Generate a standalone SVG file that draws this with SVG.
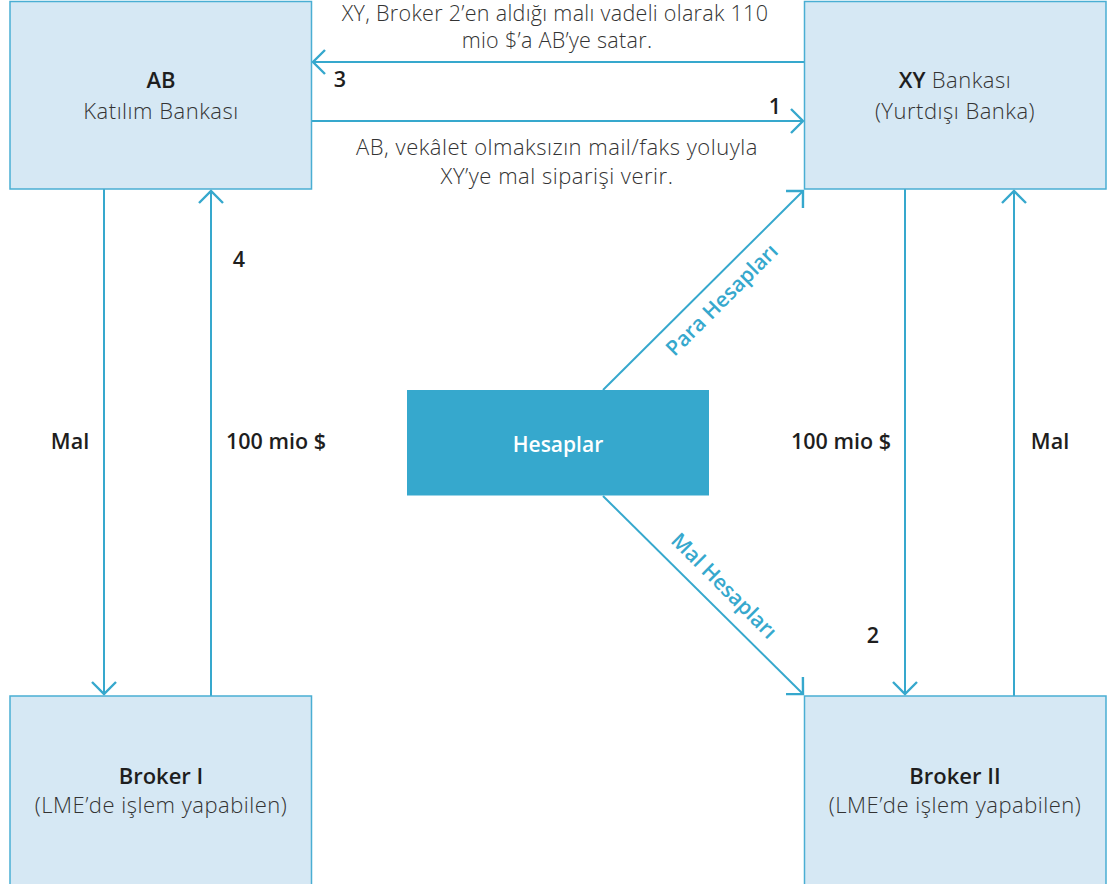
<svg xmlns="http://www.w3.org/2000/svg" width="1107" height="884" viewBox="0 0 1107 884">
  <style>
    .box { fill: #d6e8f4; stroke: #4aaed3; stroke-width: 1.5; }
    .hub { fill: #36a8cd; }
    .txt { font-family: "Open Sans", Lato, "Liberation Sans", sans-serif; font-size: 22px; fill: #2b2b2b; text-anchor: middle; }
    .lt { font-weight: 300; fill: #333333; letter-spacing: 0.5px; }
    .cap { font-size: 21.5px; letter-spacing: 0.3px; }
    .bd { font-weight: 600; fill: #1e1e1e; }
    .md { font-weight: 600; fill: #1e1e1e; font-size: 21.5px; }
    .blue { fill: #36a8cd; font-weight: 600; font-size: 21px; }
    .white { fill: #ffffff; font-weight: 600; font-size: 21px; }
    .ln { stroke: #36a8cd; stroke-width: 2; fill: none; marker-end: url(#arr); }
  </style>
  <defs>
    <marker id="arr" markerUnits="userSpaceOnUse" viewBox="-14 -14 16 28" markerWidth="16" markerHeight="28" refX="0" refY="0" orient="auto">
      <path d="M-12,-12 L0,0 L-12,12" fill="none" stroke="#36a8cd" stroke-width="2.4"/>
    </marker>
  </defs>

  <!-- connectors -->
  <g id="connectors">
    <line class="ln" x1="804" y1="62" x2="313" y2="62"/>
    <line class="ln" x1="311" y1="121" x2="803" y2="121"/>
    <line class="ln" x1="104" y1="189" x2="104" y2="694"/>
    <line class="ln" x1="211" y1="696" x2="211" y2="191"/>
    <line class="ln" x1="905" y1="189" x2="905" y2="694"/>
    <line class="ln" x1="1014" y1="696" x2="1014" y2="191"/>
    <line class="ln" x1="603" y1="390" x2="803" y2="191"/>
    <line class="ln" x1="603" y1="496" x2="803" y2="694"/>
  </g>

  <!-- connector labels -->
  <g id="labels" class="txt">
    <text class="lt cap" x="555" y="21">XY, Broker 2’en aldığı malı vadeli olarak 110</text>
    <text class="lt cap" x="557" y="48">mio $’a AB’ye satar.</text>
    <text class="lt" x="557" y="155">AB, vekâlet olmaksızın mail/faks yoluyla</text>
    <text class="lt" x="557" y="184">XY’ye mal siparişi verir.</text>
    <text class="md" x="340" y="87">3</text>
    <text class="md" x="775" y="114">1</text>
    <text class="md" x="239" y="267">4</text>
    <text class="md" x="873" y="643">2</text>
    <text class="md" x="70" y="449">Mal</text>
    <text class="md" x="276" y="449">100 mio $</text>
    <text class="md" x="841" y="449">100 mio $</text>
    <text class="md" x="1050" y="449">Mal</text>
    <text class="blue" transform="translate(722,300) rotate(-45)" y="7">Para Hesapları</text>
    <text class="blue" transform="translate(724,586) rotate(45)" y="7">Mal Hesapları</text>
  </g>

  <!-- nodes -->
  <g id="ab">
    <rect class="box" x="10" y="1.5" width="301.5" height="187.5"/>
    <text class="txt bd" x="161" y="88">AB</text>
    <text class="txt lt" x="161" y="119">Katılım Bankası</text>
  </g>
  <g id="xy">
    <rect class="box" x="804.5" y="1.5" width="301.5" height="187.5"/>
    <text class="txt" x="955" y="88"><tspan class="bd">XY</tspan><tspan class="lt"> Bankası</tspan></text>
    <text class="txt lt" x="955" y="119">(Yurtdışı Banka)</text>
  </g>
  <g id="broker1">
    <rect class="box" x="10" y="696" width="301.5" height="190"/>
    <text class="txt bd" x="161" y="784">Broker I</text>
    <text class="txt lt" x="161" y="813">(LME’de işlem yapabilen)</text>
  </g>
  <g id="broker2">
    <rect class="box" x="804.5" y="696" width="301.5" height="190"/>
    <text class="txt bd" x="955" y="784">Broker II</text>
    <text class="txt lt" x="955" y="813">(LME’de işlem yapabilen)</text>
  </g>
  <g id="hesaplar">
    <rect class="hub" x="407" y="390" width="302" height="105.5"/>
    <text class="txt white" x="558" y="452">Hesaplar</text>
  </g>
</svg>
